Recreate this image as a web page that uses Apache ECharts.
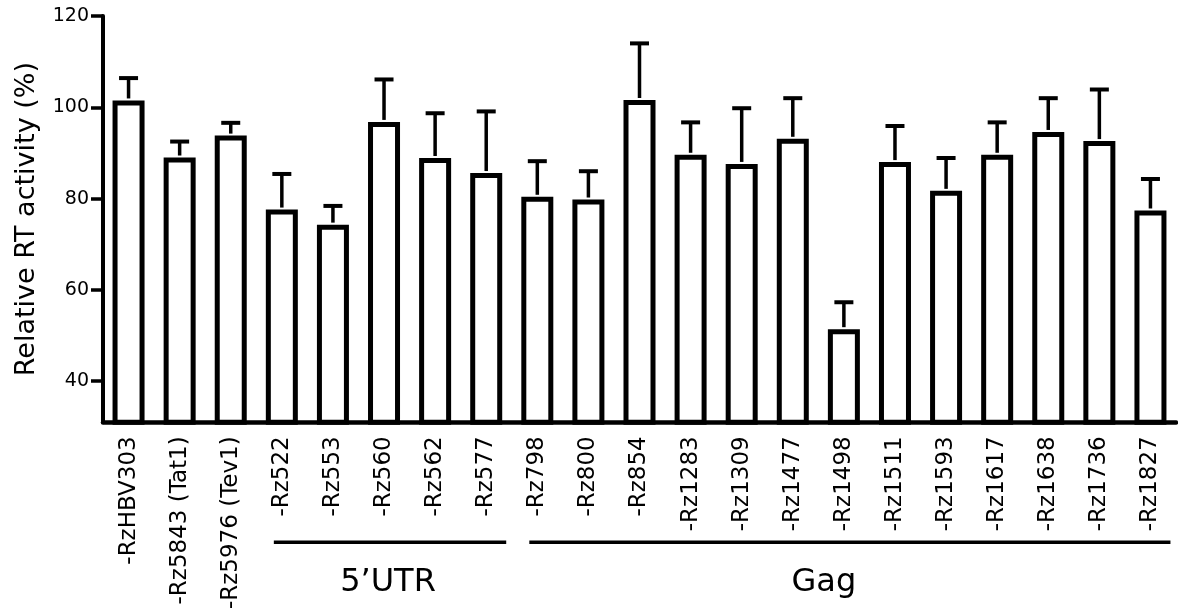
<!DOCTYPE html>
<html>
<head>
<meta charset="utf-8">
<title>Relative RT activity</title>
<script src="https://cdn.jsdelivr.net/npm/echarts@6/dist/echarts.min.js"></script>
<style>
    html, body { margin: 0; padding: 0; background: #fff; }
    #container { width: 1178px; height: 612px; }
</style>
</head>
<body>
<div id="container"></div>
<script>
// ribozyme constructs
var categories = ['-RzHBV303', '-Rz5843 (Tat1)', '-Rz5976 (Tev1)',
    '-Rz522', '-Rz553', '-Rz560', '-Rz562', '-Rz577',
    '-Rz798', '-Rz800', '-Rz854', '-Rz1283', '-Rz1309', '-Rz1477', '-Rz1498',
    '-Rz1511', '-Rz1593', '-Rz1617', '-Rz1638', '-Rz1736', '-Rz1827'];
// relative RT activity (%)
var activity = [101.5, 89.0, 93.8, 77.6, 74.3, 96.8, 88.9, 85.6, 80.4, 79.8,
    101.6, 89.6, 87.6, 93.1, 51.4, 88.0, 81.7, 89.6, 94.6, 92.6, 77.4];
// upper error (SD)
var errors = [4.9, 3.5, 2.8, 7.8, 4.1, 9.3, 9.8, 13.5, 7.8, 6.2,
    12.4, 7.1, 12.2, 8.9, 5.9, 7.9, 7.2, 7.1, 7.4, 11.3, 6.9];
var yTicks = [40, 60, 80, 100, 120];
var groups = [
    { name: '5\u2019UTR', from: '-Rz522', to: '-Rz577', shift: -2 },
    { name: 'Gag', from: '-Rz798', to: '-Rz1827', shift: -26 }
];

var FONT = '"DejaVu Sans", Arial, sans-serif';

var myChart = echarts.init(document.getElementById('container'));

var errData = activity.map(function (v, i) {
    return [i, v, v + errors[i]];
});

var option = {
    animation: false,
    grid: {
        left: 103,
        right: 2,
        top: 16,
        bottom: 187
    },
    xAxis: {
        type: 'category',
        data: categories,
        axisLine: { lineStyle: { color: '#000', width: 4.5 } },
        axisTick: { alignWithLabel: true, length: 10, lineStyle: { color: '#000', width: 3.5 } },
        axisLabel: {
            rotate: 90,
            margin: 14,
            color: '#000',
            fontFamily: FONT,
            fontSize: 23,
            interval: 0
        }
    },
    yAxis: {
        type: 'value',
        min: 31,
        max: 120,
        name: 'Relative RT activity (%)',
        nameLocation: 'middle',
        nameRotate: 90,
        nameGap: 63,
        nameTextStyle: { color: '#000', fontFamily: FONT, fontSize: 27 },
        axisLine: { show: true, lineStyle: { color: '#000', width: 4 } },
        axisTick: { show: true, length: 12, customValues: yTicks, lineStyle: { color: '#000', width: 3.5 } },
        axisLabel: {
            customValues: yTicks,
            margin: 14,
            color: '#000',
            fontFamily: FONT,
            fontSize: 19
        },
        splitLine: { show: false }
    },
    series: [
        {
            type: 'bar',
            data: activity,
            barWidth: 32,
            itemStyle: { color: '#fff', borderColor: '#000', borderWidth: 5 }
        },
        {
            type: 'custom',
            data: errData,
            z: 3,
            renderItem: function (params, api) {
                var base = api.coord([api.value(0), api.value(1)]);
                var top = api.coord([api.value(0), api.value(2)]);
                var capHalf = 9.5;
                return {
                    type: 'group',
                    children: [
                        {
                            type: 'line',
                            shape: { x1: base[0], y1: base[1] - 2, x2: top[0], y2: top[1] },
                            style: { stroke: '#000', lineWidth: 3.5 }
                        },
                        {
                            type: 'line',
                            shape: { x1: top[0] - capHalf, y1: top[1], x2: top[0] + capHalf, y2: top[1] },
                            style: { stroke: '#000', lineWidth: 4 }
                        }
                    ]
                };
            }
        }
    ]
};

myChart.setOption(option, true);

// group brackets under the category labels
var axisY = myChart.convertToPixel({ yAxisIndex: 0 }, 31);
var elements = [];
groups.forEach(function (g) {
    var x1 = myChart.convertToPixel({ xAxisIndex: 0 }, g.from) - 8;
    var x2 = Math.min(myChart.convertToPixel({ xAxisIndex: 0 }, g.to) + 20, 1175);
    elements.push({
        type: 'line',
        shape: { x1: x1, y1: axisY + 120, x2: x2, y2: axisY + 120 },
        style: { stroke: '#000', lineWidth: 3.5 }
    });
    elements.push({
        type: 'text',
        x: (x1 + x2) / 2 + g.shift,
        y: axisY + 160,
        style: {
            text: g.name,
            fill: '#000',
            font: '32px ' + FONT,
            align: 'center',
            verticalAlign: 'middle'
        }
    });
});
myChart.setOption({ graphic: { elements: elements } });

window.onresize = function () {
    myChart.resize();
};
</script>
</body>
</html>
